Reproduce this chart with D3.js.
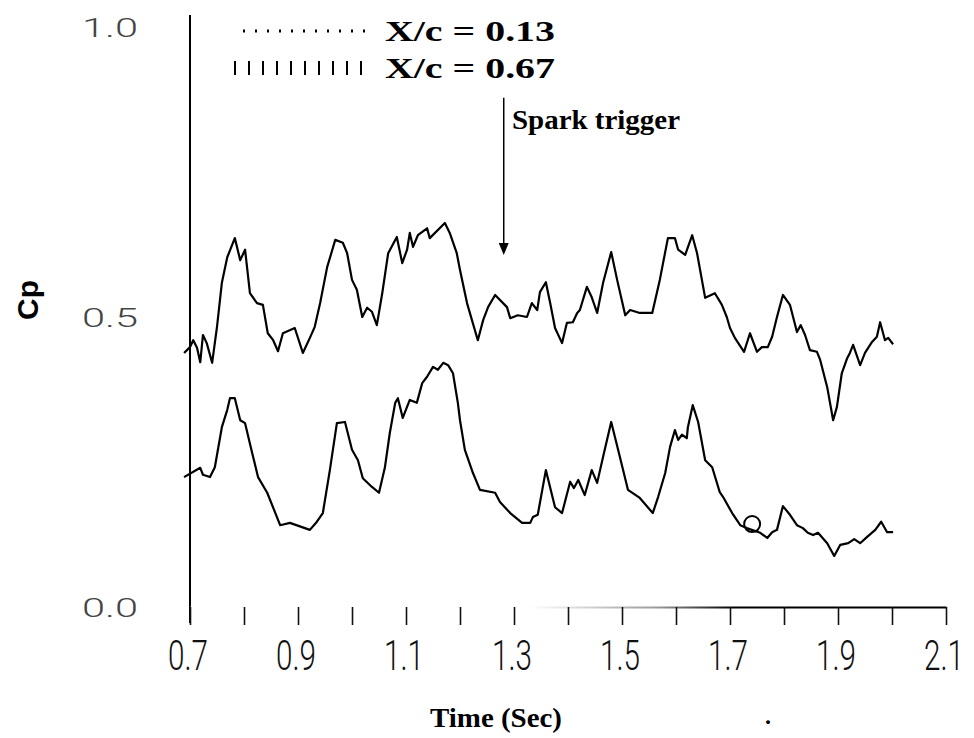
<!DOCTYPE html>
<html><head><meta charset="utf-8">
<script src="https://cdn.jsdelivr.net/npm/d3@7"></script>
<style>body{margin:0;background:#fff}svg{display:block}</style>
</head><body>
<svg id="chart" width="974" height="738"></svg>
<script>
// ---- data ----
const seriesNames = ["X/c = 0.13", "X/c = 0.67"];

const timeUpper = [0.689,0.700,0.706,0.713,0.719,0.724,0.731,0.741,0.750,0.759,0.769,0.783,0.793,0.802,0.811,0.824,0.835,0.844,0.854,0.863,0.872,0.894,0.909,0.922,0.931,0.941,0.954,0.969,0.983,0.991,1.000,1.009,1.019,1.028,1.037,1.046,1.056,1.067,1.083,1.093,1.102,1.107,1.113,1.122,1.139,1.144,1.172,1.181,1.194,1.200,1.213,1.222,1.233,1.243,1.252,1.265,1.287,1.293,1.307,1.324,1.333,1.343,1.348,1.359,1.367,1.376,1.389,1.398,1.409,1.417,1.422,1.435,1.444,1.454,1.465,1.480,1.491,1.506,1.515,1.533,1.556,1.570,1.585,1.598,1.604,1.617,1.630,1.639,1.654,1.672,1.685,1.694,1.700,1.709,1.726,1.737,1.750,1.759,1.770,1.778,1.787,1.798,1.811,1.824,1.831,1.839,1.848,1.861,1.867,1.880,1.891,1.898,1.907,1.917,1.922,1.928,1.941,1.950,1.963,1.972,1.978,1.987,1.993,2.002];
const cpUpper = [0.438,0.448,0.460,0.447,0.422,0.469,0.455,0.421,0.483,0.559,0.603,0.636,0.598,0.616,0.541,0.524,0.521,0.472,0.460,0.441,0.472,0.481,0.438,0.464,0.483,0.524,0.586,0.633,0.628,0.610,0.564,0.547,0.500,0.516,0.509,0.486,0.541,0.610,0.638,0.593,0.616,0.645,0.621,0.641,0.653,0.636,0.662,0.645,0.610,0.581,0.524,0.495,0.460,0.495,0.517,0.538,0.517,0.498,0.503,0.500,0.524,0.512,0.543,0.560,0.524,0.481,0.455,0.490,0.491,0.507,0.512,0.552,0.534,0.507,0.559,0.612,0.564,0.503,0.512,0.507,0.507,0.564,0.636,0.636,0.616,0.607,0.641,0.610,0.533,0.541,0.521,0.500,0.481,0.464,0.440,0.472,0.440,0.448,0.448,0.466,0.500,0.538,0.521,0.474,0.486,0.469,0.443,0.440,0.426,0.379,0.322,0.345,0.403,0.429,0.438,0.452,0.417,0.438,0.457,0.466,0.491,0.460,0.464,0.453];

const timeLower = [0.689,0.719,0.724,0.737,0.746,0.759,0.769,0.774,0.783,0.793,0.802,0.815,0.826,0.843,0.861,0.867,0.885,0.922,0.935,0.946,0.959,0.972,0.987,1.000,1.011,1.020,1.037,1.050,1.061,1.070,1.080,1.085,1.094,1.107,1.120,1.130,1.139,1.150,1.159,1.169,1.178,1.187,1.196,1.200,1.209,1.224,1.237,1.265,1.274,1.293,1.315,1.330,1.335,1.344,1.359,1.376,1.389,1.404,1.411,1.419,1.431,1.444,1.454,1.465,1.480,1.496,1.511,1.533,1.557,1.567,1.580,1.589,1.598,1.604,1.611,1.620,1.622,1.631,1.641,1.654,1.667,1.681,1.687,1.704,1.719,1.731,1.756,1.769,1.778,1.787,1.798,1.811,1.824,1.835,1.844,1.854,1.863,1.880,1.893,1.904,1.919,1.930,1.941,1.954,1.969,1.980,1.991,2.002];
const cpLower = [0.224,0.240,0.228,0.224,0.241,0.310,0.340,0.360,0.360,0.322,0.317,0.266,0.224,0.197,0.155,0.141,0.145,0.133,0.147,0.162,0.236,0.317,0.319,0.271,0.253,0.222,0.207,0.197,0.241,0.300,0.352,0.360,0.326,0.357,0.352,0.386,0.397,0.414,0.409,0.421,0.417,0.403,0.352,0.322,0.271,0.231,0.202,0.197,0.181,0.162,0.145,0.145,0.155,0.159,0.236,0.172,0.162,0.216,0.205,0.219,0.193,0.236,0.214,0.259,0.319,0.259,0.202,0.188,0.162,0.190,0.231,0.276,0.305,0.288,0.297,0.291,0.310,0.348,0.319,0.253,0.241,0.198,0.190,0.162,0.141,0.136,0.128,0.119,0.129,0.133,0.174,0.159,0.141,0.136,0.128,0.124,0.128,0.110,0.088,0.107,0.110,0.117,0.110,0.121,0.133,0.147,0.129,0.129];

const xTickValues = [0.7,0.8,0.9,1.0,1.1,1.2,1.3,1.4,1.5,1.6,1.7,1.8,1.9,2.0,2.1];
const xLabelValues = [0.7,0.9,1.1,1.3,1.5,1.7,1.9,2.1];
const xLabels = ["0.7","0.9","1.1","1.3","1.5","1.7","1.9","2.1"];
const yLabelValues = [0.0,0.5,1.0];
const yLabels = ["0.0","0.5","1.0"];

const sparkTime = 1.281;          // spark trigger arrow position
const sparkCp = [0.878, 0.607];   // arrow start / tip
const circleMark = [1.741, 0.143]; // small circle drawn on lower trace

// ---- drawing ----
const svg = d3.select("#chart");
const x = d3.scaleLinear().domain([0.7, 2.1]).range([190, 946]);
const y = d3.scaleLinear().domain([0, 1]).range([607, 27]);

// gradient for faint left part of the x axis line
const defs = svg.append("defs");
const grad = defs.append("linearGradient").attr("id","axisFade")
  .attr("gradientUnits","userSpaceOnUse").attr("x1", x(0.7)).attr("x2", x(2.1)).attr("y1",0).attr("y2",0);
grad.append("stop").attr("offset", "45%").attr("stop-color","#fff");
grad.append("stop").attr("offset", "62%").attr("stop-color","#999");
grad.append("stop").attr("offset", "72%").attr("stop-color","#000");

// y axis line
svg.append("line").attr("x1", x(0.7)).attr("x2", x(0.7))
  .attr("y1", y(1) - 12).attr("y2", y(0) + 16)
  .attr("stroke","#000").attr("stroke-width",2);

// x axis
const xAxis = d3.axisBottom(x).tickValues(xTickValues).tickSize(18).tickSizeOuter(0).tickFormat("");
const gx = svg.append("g").attr("transform", `translate(0,${y(0)})`).call(xAxis);
gx.select(".domain").attr("stroke","url(#axisFade)").attr("stroke-width",2);
gx.selectAll(".tick line").attr("stroke","#111").attr("stroke-width",1.6);

// x tick labels
svg.append("g").selectAll("text").data(xLabelValues).join("text")
  .attr("x", d => x(d) - 2).attr("y", 670)
  .attr("text-anchor","middle")
  .attr("font-family","Roboto, 'Liberation Sans', sans-serif")
  .attr("font-weight",300).attr("font-size",42)
  .attr("textLength",40).attr("lengthAdjust","spacingAndGlyphs")
  .attr("fill","#111")
  .text((d,i) => xLabels[i]);

// y tick labels
svg.append("g").selectAll("text").data(yLabelValues).join("text")
  .attr("x", 110).attr("y", d => y(d) + 10)
  .attr("text-anchor","middle")
  .attr("font-family","Roboto, 'Liberation Sans', sans-serif")
  .attr("font-weight",300).attr("font-size",26)
  .attr("textLength",56).attr("lengthAdjust","spacingAndGlyphs")
  .attr("fill","#444")
  .text((d,i) => yLabels[i]);

// axis titles
svg.append("text").attr("transform","translate(38,300) rotate(-90)")
  .attr("text-anchor","middle")
  .attr("font-family","'Liberation Sans', Arial, sans-serif").attr("font-weight","bold").attr("font-size",30)
  .text("Cp");
svg.append("text").attr("x", 496).attr("y", 727).attr("text-anchor","middle")
  .attr("font-family","'Liberation Serif', 'Times New Roman', serif").attr("font-weight","bold").attr("font-size",27)
  .attr("textLength",132).attr("lengthAdjust","spacingAndGlyphs")
  .text("Time (Sec)");
svg.append("text").attr("x", 768).attr("y", 724).attr("text-anchor","middle")
  .attr("font-family","'Liberation Serif', serif").attr("font-weight","bold").attr("font-size",24)
  .text(".");

// curves
const line = d3.line().x(d => x(d[0])).y(d => y(d[1])).curve(d3.curveLinear);
const upper = timeUpper.map((t,i) => [t, cpUpper[i]]);
const lower = timeLower.map((t,i) => [t, cpLower[i]]);
svg.append("path").datum(upper).attr("d", line)
  .attr("fill","none").attr("stroke","#000").attr("stroke-width",2.2).attr("stroke-linejoin","round");
svg.append("path").datum(lower).attr("d", line)
  .attr("fill","none").attr("stroke","#000").attr("stroke-width",2.2).attr("stroke-linejoin","round");

// circle mark
svg.append("circle").attr("cx", x(circleMark[0])).attr("cy", y(circleMark[1]))
  .attr("r", 8).attr("fill","none").attr("stroke","#000").attr("stroke-width",2);

// legend
const legendRows = [31, 68];
const lg = svg.append("g");
lg.append("line").attr("x1",243).attr("x2",370).attr("y1",legendRows[0]).attr("y2",legendRows[0])
  .attr("stroke","#000").attr("stroke-width",3).attr("stroke-dasharray","2,10");
lg.append("line").attr("x1",234).attr("x2",370).attr("y1",legendRows[1]).attr("y2",legendRows[1])
  .attr("stroke","#000").attr("stroke-width",14).attr("stroke-dasharray","2,12");
lg.selectAll("text").data(seriesNames).join("text")
  .attr("x", 385).attr("y", (d,i) => legendRows[i] + 10)
  .attr("font-family","'Liberation Serif', 'Times New Roman', serif").attr("font-weight","bold").attr("font-size",29)
  .attr("textLength",170).attr("lengthAdjust","spacingAndGlyphs")
  .text(d => d);

// spark trigger annotation
svg.append("line").attr("x1", x(sparkTime)).attr("x2", x(sparkTime))
  .attr("y1", y(sparkCp[0])).attr("y2", y(sparkCp[1]) - 8)
  .attr("stroke","#000").attr("stroke-width",1.5);
svg.append("path")
  .attr("d", `M${x(sparkTime)-5},${y(sparkCp[1])-12} L${x(sparkTime)+5},${y(sparkCp[1])-12} L${x(sparkTime)},${y(sparkCp[1])} Z`)
  .attr("fill","#000");
svg.append("text").attr("x", 512).attr("y", 129)
  .attr("font-family","'Liberation Serif', 'Times New Roman', serif").attr("font-weight","bold").attr("font-size",27)
  .attr("textLength",168).attr("lengthAdjust","spacingAndGlyphs")
  .text("Spark trigger");
</script>
</body></html>
